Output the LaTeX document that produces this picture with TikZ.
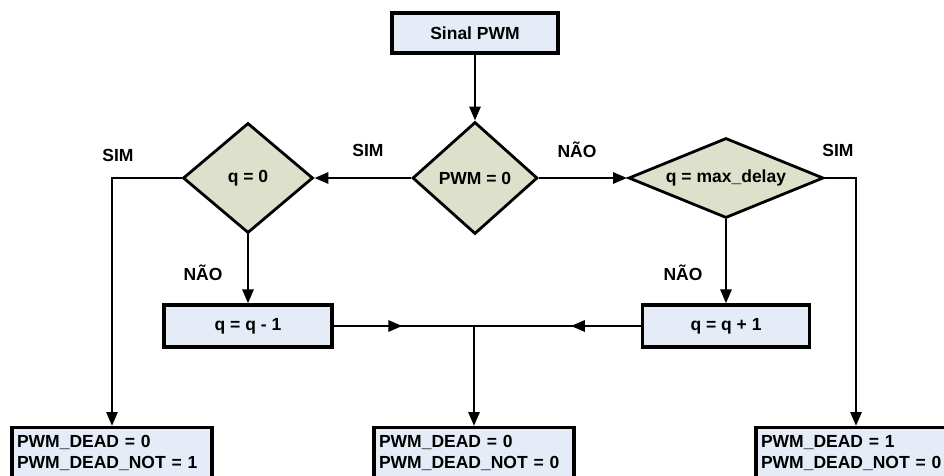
\documentclass[tikz,border=0pt]{standalone}
\usepackage{fontspec}
\setmainfont{Liberation Sans}
\usetikzlibrary{shapes.geometric,arrows.meta,decorations.markings}
\definecolor{boxfill}{RGB}{229,236,247}
\definecolor{decfill}{RGB}{221,224,202}
\begin{document}
\begin{tikzpicture}[x=1pt,y=-1pt,
  font=\fontsize{17.5}{21}\selectfont\bfseries,
  procbox/.style={draw=black, line width=3.2pt, fill=boxfill, rectangle, inner sep=0pt},
  outbox/.style={draw=black, line width=3.2pt, fill=boxfill, rectangle, anchor=north, text width=190pt, align=left, inner xsep=5pt, inner ysep=8pt, minimum height=0pt},
  decision/.style={draw=black, line width=2.8pt, fill=decfill, diamond, inner sep=0pt},
  flow/.style={line width=2.8pt, -{Triangle[length=14pt,width=11pt]}},
  midarrow/.style={line width=2.8pt, postaction={decorate}, decoration={markings, mark=at position #1 with {\arrow{Triangle[length=14pt,width=11pt]}}}},
  lbl/.style={inner sep=0pt}
]
\useasboundingbox (0,0) rectangle (944,476);
\clip (0,0) rectangle (944,476);
\node[procbox, minimum width=166pt, minimum height=40pt] (start) at (475,33) {Sinal PWM};
\node[decision, minimum width=125pt, minimum height=112pt] (pwm) at (475,178) {PWM = 0};
\node[decision, minimum width=130pt, minimum height=110pt] (qz) at (248,178) {q = 0};
\node[decision, shape aspect=2.4, minimum width=195pt, minimum height=80pt] (qmax) at (726,178) {q = max\_delay};
\node[procbox, minimum width=168pt, minimum height=42pt] (dec) at (248,326) {q = q - 1};
\node[procbox, minimum width=167pt, minimum height=42pt] (inc) at (726,326) {q = q + 1};
\node[outbox] (b1) at (112,426) {PWM\_DEAD = 0\\PWM\_DEAD\_NOT = 1};
\node[outbox] (b2) at (474,426) {PWM\_DEAD = 0\\PWM\_DEAD\_NOT = 0};
\node[outbox] (b3) at (856,426) {PWM\_DEAD = 1\\PWM\_DEAD\_NOT = 0};
\coordinate (j) at (474,326);
\draw[flow] (start.south) -- (pwm.north);
\draw[flow] (pwm.west) -- (qz.east);
\draw[flow] (pwm.east) -- (qmax.west);
\draw[flow] (qz.south) -- (dec.north);
\draw[flow] (qmax.south) -- (inc.north);
\draw[flow] (qz.west) -| (b1.north);
\draw[flow] (qmax.east) -| (b3.north);
\draw[midarrow=0.49] (dec.east) -- (j);
\draw[midarrow=0.42] (inc.west) -- (j);
\draw[flow] (j) -- (b2.north);
\node[lbl] (sim1) at (118,155) {SIM};
\node[lbl] (sim2) at (368,150) {SIM};
\node[lbl] (nao1) at (577,150) {NÃO};
\node[lbl] (sim3) at (838,150) {SIM};
\node[lbl] (nao2) at (203,273) {NÃO};
\node[lbl] (nao3) at (683,273) {NÃO};
\end{tikzpicture}
\end{document}
